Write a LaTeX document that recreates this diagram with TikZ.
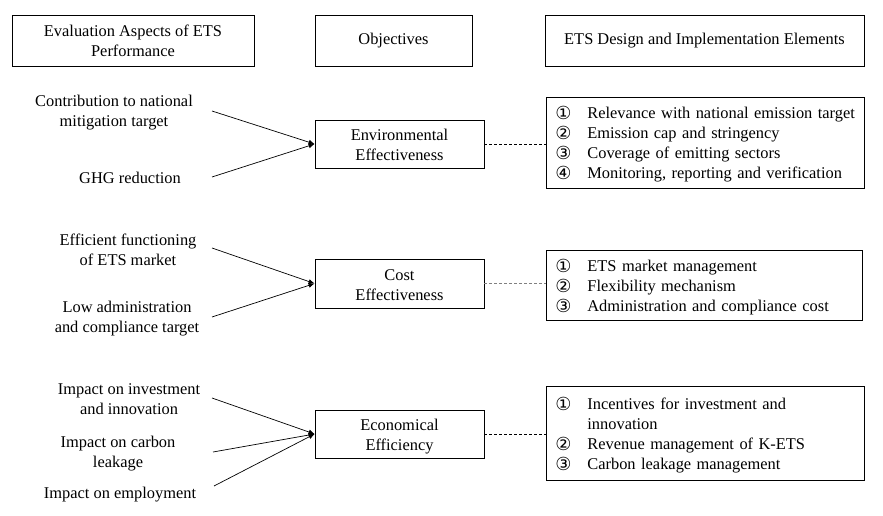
\documentclass[tikz,border=0pt]{standalone}
\usepackage{fontspec}
\setmainfont{Liberation Serif}
\newfontfamily\circfont{DejaVu Sans}
\usetikzlibrary{arrows.meta}
\newcommand\fs{\fontsize{16.4}{20}\selectfont}
\newcommand\cn[1]{\makebox[32pt][l]{\raisebox{-0.5pt}{\circfont\fontsize{18}{18}\selectfont #1}}}
\newcommand\lowered[1]{\raisebox{-2.5pt}[\height][\depth]{#1}}
\newcommand\ctr[1]{\lowered{\begin{tabular}{@{}c@{}}#1\end{tabular}}}
\begin{document}
\begin{tikzpicture}[x=1pt,y=-1pt,
  box/.style={draw, line width=0.8pt, align=center, inner sep=0pt, font=\fs},
  listbox/.style={draw, line width=0.8pt, align=left, inner xsep=9pt, inner ysep=0pt, font=\fs, anchor=west},
  txt/.style={align=center, font=\fs, inner sep=0pt},
  conn/.style={line width=0.7pt, -{Latex[length=6pt,width=5pt]}},
  link/.style={line width=0.7pt, dash pattern=on 3pt off 2pt}]
\useasboundingbox (0,0) rectangle (883,516);
% headers
\node[box, minimum width=242pt, minimum height=51pt] (h1) at (133,40.5) {Evaluation Aspects of ETS\\Performance};
\node[box, minimum width=157pt, minimum height=51pt] (h2) at (393.5,40.5) {Objectives};
\node[box, minimum width=319pt, minimum height=51pt] (h3) at (704.5,40.5) {ETS Design and Implementation Elements};
% objectives
\node[box, minimum width=169pt, minimum height=48pt] (o1) at (399.5,144) {\ctr{Environmental\\Effectiveness}};
\node[box, minimum width=169pt, minimum height=49pt] (o2) at (399.5,283.5) {\ctr{Cost\\Effectiveness}};
\node[box, minimum width=169pt, minimum height=48pt] (o3) at (399.5,434) {\ctr{Economical\\Efficiency}};
% lists
\node[listbox, text width=300pt, minimum height=91pt] (l1) at (546,142.5) {\lowered{%
\begin{tabular}{@{}l@{}l@{}}
\cn{①} & Relevance with national emission target\\
\cn{②} & Emission cap and stringency\\
\cn{③} & Coverage of emitting sectors\\
\cn{④} & Monitoring, reporting and verification
\end{tabular}}};
\node[listbox, text width=298pt, minimum height=70pt] (l2) at (546,285) {\lowered{%
\begin{tabular}{@{}l@{}l@{}}
\cn{①} & ETS market management\\
\cn{②} & Flexibility mechanism\\
\cn{③} & Administration and compliance cost
\end{tabular}}};
\node[listbox, text width=300pt, minimum height=94pt] (l3) at (546,433) {\lowered{%
\begin{tabular}{@{}l@{}l@{}}
\cn{①} & Incentives for investment and\\
 & innovation\\
\cn{②} & Revenue management of K-ETS\\
\cn{③} & Carbon leakage management
\end{tabular}}};
% left texts
\node[txt] (a1) at (114,113) {Contribution to national\\mitigation target};
\node[txt] (a2) at (130,178) {GHG reduction};
\node[txt] (b1) at (128,250) {Efficient functioning\\of ETS market};
\node[txt] (b2) at (127,319) {Low administration\\and compliance target};
\node[txt] (c1) at (129,399) {Impact on investment\\and innovation};
\node[txt] (c2) at (118,454) {Impact on carbon\\leakage};
\node[txt] (c3) at (120,495) {Impact on employment};
% start coordinates
\coordinate (sa1) at (212,111);
\coordinate (sa2) at (212,177);
\coordinate (sb1) at (212,248);
\coordinate (sb2) at (212,317);
\coordinate (sc1) at (212,398);
\coordinate (sc2) at (213,452);
\coordinate (sc3) at (214,486);
\draw[conn] (sa1) -- (o1.west);
\draw[conn] (sa2) -- (o1.west);
\draw[conn] (sb1) -- (o2.west);
\draw[conn] (sb2) -- (o2.west);
\draw[conn] (sc1) -- (o3.west);
\draw[conn] (sc2) -- (o3.west);
\draw[conn] (sc3) -- (o3.west);
% dashed links
\draw[link] (o1.east) -- (o1.east -| l1.west);
\draw[link, gray] (o2.east) -- (o2.east -| l2.west);
\draw[link] (o3.east) -- (o3.east -| l3.west);
\end{tikzpicture}
\end{document}
